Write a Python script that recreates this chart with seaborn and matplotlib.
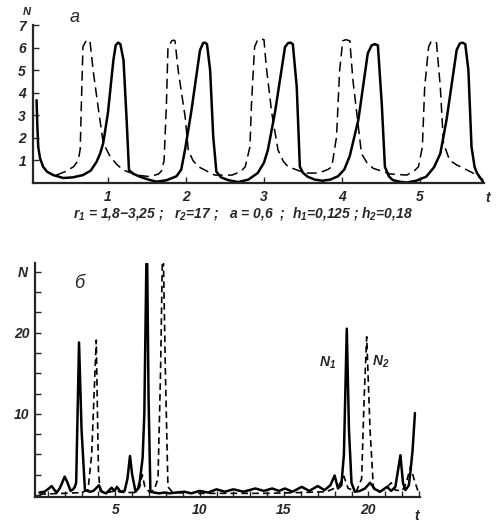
import numpy as np
import pandas as pd
import seaborn as sns
import matplotlib
matplotlib.use("Agg")
import matplotlib.pyplot as plt
from matplotlib.ticker import MultipleLocator

# ---------------- data: panel a ----------------
a_solid_t = [0.086, 0.095, 0.107, 0.13, 0.17, 0.22, 0.30, 0.43, 0.55, 0.68, 0.78, 0.855, 0.90, 0.94,
             1.00, 1.07, 1.10, 1.13, 1.16, 1.20, 1.24, 1.27, 1.33, 1.41, 1.52, 1.62, 1.75, 1.88, 1.94,
             1.99, 2.07, 2.18, 2.22, 2.245, 2.27, 2.31, 2.35, 2.39, 2.45, 2.54, 2.67, 2.80, 2.92, 3.00,
             3.05, 3.14, 3.27, 3.31, 3.34, 3.37, 3.42, 3.46, 3.50, 3.56, 3.65, 3.75, 3.85, 3.95, 4.03,
             4.10, 4.21, 4.33, 4.38, 4.42, 4.46, 4.51, 4.55, 4.60, 4.65, 4.75, 4.83, 4.95, 5.08, 5.18,
             5.26, 5.34, 5.47, 5.51, 5.545, 5.58, 5.62, 5.66, 5.70, 5.73, 5.81]
a_solid_N = [3.67, 2.6, 1.6, 1.1, 0.72, 0.5, 0.35, 0.22, 0.25, 0.35, 0.55, 0.94, 1.3, 1.77,
             3.1, 5.44, 6.1, 6.22, 6.15, 5.44, 2.8, 0.57, 0.4, 0.28, 0.15, 0.06, 0.12, 0.3, 0.6,
             1.5, 3.2, 5.88, 6.2, 6.22, 6.15, 5.0, 2.05, 0.5, 0.25, 0.13, 0.04, 0.15, 0.44, 0.9,
             1.46, 3.1, 6.03, 6.2, 6.22, 6.15, 4.26, 0.72, 0.45, 0.28, 0.15, 0.1, 0.15, 0.3, 0.6,
             1.2, 2.8, 5.74, 6.1, 6.15, 6.1, 3.5, 0.72, 0.3, 0.13, 0.05, 0.02, 0.1, 0.28, 0.7,
             1.3, 2.8, 5.9, 6.18, 6.22, 6.15, 5.0, 1.6, 0.7, 0.44, 0.04]

a_dash_t = [0.34, 0.45, 0.56, 0.62, 0.645, 0.66, 0.68, 0.72, 0.745, 0.77, 0.81, 0.88, 0.94, 1.03,
            1.12, 1.20, 1.37, 1.54, 1.65, 1.69, 1.72, 1.75, 1.77, 1.82, 1.84, 1.86, 1.90, 1.99, 2.03,
            2.09, 2.16, 2.37, 2.59, 2.70, 2.76, 2.82, 2.84, 2.88, 2.92, 2.96, 3.00, 3.03, 3.10, 3.18,
            3.25, 3.31, 3.53, 3.70, 3.82, 3.87, 3.93, 3.97, 4.01, 4.05, 4.10, 4.14, 4.21, 4.25, 4.32,
            4.40, 4.62, 4.83, 4.93, 4.98, 5.03, 5.06, 5.11, 5.14, 5.175, 5.21, 5.26, 5.30, 5.38, 5.47,
            5.56, 5.68, 5.81]
a_dash_N = [0.35, 0.5, 0.72, 1.0, 1.5, 3.5, 6.03, 6.3, 6.33, 6.3, 5.0, 3.23, 1.77, 1.16,
            0.8, 0.57, 0.35, 0.28, 0.4, 0.55, 1.0, 3.5, 6.03, 6.3, 6.33, 6.3, 5.0, 2.93, 1.46,
            1.0, 0.72, 0.35, 0.35, 0.5, 0.72, 1.6, 3.5, 6.03, 6.35, 6.38, 6.35, 5.15, 3.1, 1.46,
            0.95, 0.72, 0.44, 0.44, 0.6, 0.72, 2.05, 5.0, 6.3, 6.35, 6.3, 4.56, 2.49, 1.3, 0.9,
            0.65, 0.4, 0.35, 0.55, 0.72, 1.6, 4.26, 6.03, 6.25, 6.28, 6.25, 4.26, 1.77, 1.0, 0.8,
            0.65, 0.44, 0.13]

# ---------------- data: panel б ----------------
b_n1_t = [0.5, 0.8, 1.0, 1.23, 1.4, 1.52, 1.7, 1.85, 2.0, 2.15, 2.35, 2.5, 2.6, 2.68, 2.85, 3.0,
          3.2, 3.35, 3.5, 3.7, 3.85, 4.03, 4.2, 4.45, 4.6, 4.78, 4.95, 5.1, 5.3, 5.55, 5.72, 5.87,
          6.0, 6.2, 6.35, 6.46, 6.62, 6.72, 6.87, 6.97, 7.08, 7.3, 7.6, 7.9, 8.2, 8.6, 9.1, 9.5,
          10.0, 10.5, 11.0, 11.5, 12.0, 12.6, 13.3, 13.8, 14.3, 14.7, 15.05, 15.5, 16.05, 16.5,
          17.0, 17.4, 17.75, 18.0, 18.2, 18.4, 18.55, 18.72, 18.85, 19.0, 19.2, 19.5, 19.8, 20.1,
          20.4, 20.7, 21.1, 21.35, 21.6, 21.9, 22.05, 22.2, 22.4, 22.5, 22.62, 22.76]
b_n1_N = [0.3, 0.4, 0.7, 1.1, 0.6, 0.3, 0.8, 1.5, 2.26, 1.6, 0.5, 0.7, 1.0, 1.5, 18.8, 8.0,
          0.6, 0.5, 0.4, 0.5, 0.8, 1.2, 0.4, 0.2, 0.5, 0.9, 0.5, 1.0, 0.4, 0.5, 2.0, 4.8,
          2.5, 0.4, 0.8, 1.8, 4.6, 10.0, 33.0, 12.0, 0.4, 0.3, 0.2, 0.3, 0.2, 0.3, 0.4, 0.2,
          0.5, 0.3, 0.7, 0.4, 0.7, 0.4, 0.8, 0.5, 0.8, 0.5, 0.8, 0.4, 1.0, 0.5,
          1.1, 0.6, 1.2, 2.4, 0.8, 1.2, 5.0, 20.5, 8.0, 1.5, 0.4, 0.5, 0.8, 1.5,
          0.7, 0.4, 1.0, 0.5, 1.0, 4.9, 1.5, 0.6, 1.2, 3.0, 5.5, 10.1]

b_n2_t = [0.5, 2.0, 3.0, 3.38, 3.6, 3.87, 4.0, 4.1, 4.5, 5.0, 5.5, 6.2, 6.45, 6.6, 6.75, 7.0,
          7.3, 7.53, 7.68, 7.82, 7.97, 8.12, 8.4, 10.0, 12.0, 14.0, 16.0, 17.5, 18.2, 18.55, 18.8,
          19.3, 19.6, 19.75, 19.9, 20.1, 20.3, 20.6, 21.0, 21.35, 21.6, 22.0, 22.25, 22.5, 22.7, 23.0]
b_n2_N = [0.1, 0.2, 0.3, 0.6, 5.0, 19.1, 3.0, 0.5, 0.3, 0.5, 0.3, 0.3, 1.0, 2.5, 1.0, 0.4,
          0.6, 2.0, 15.0, 33.0, 15.0, 1.0, 0.3, 0.2, 0.2, 0.2, 0.3, 0.4, 1.0, 2.3, 0.8,
          0.5, 2.0, 12.0, 19.5, 8.0, 0.8, 0.4, 0.7, 1.5, 0.6, 0.5, 1.5, 3.5, 2.0, 0.1]

a_xticks = [1, 2, 3, 4, 5]
a_yticks = [1, 2, 3, 4, 5, 6, 7]
b_xticks = [5, 10, 15, 20]
b_yticks = [10, 20]
params_text = r"$r_1$ = 1,8$-$3,25 ;   $r_2$=17 ;   a = 0,6  ;  $h_1$=0,125 ; $h_2$=0,18"

# ---------------- style ----------------
sns.set_style("ticks")
plt.rcParams['font.family'] = ['Liberation Sans', 'DejaVu Sans']
plt.rcParams['font.style'] = 'italic'
plt.rcParams['font.weight'] = 'bold'
plt.rcParams['axes.linewidth'] = 1.6
plt.rcParams['mathtext.fontset'] = 'custom'
plt.rcParams['mathtext.rm'] = 'Liberation Sans:italic:bold'
plt.rcParams['mathtext.it'] = 'Liberation Sans:italic:bold'
plt.rcParams['mathtext.bf'] = 'Liberation Sans:italic:bold'
plt.rcParams['mathtext.default'] = 'it'

fig = plt.figure(figsize=(5.0, 5.3), dpi=100)
W, H = 500, 530

def axrect(l, r, t, b):
    return [l / W, 1 - b / H, (r - l) / W, (b - t) / H]

# ---- panel a ----
ax1 = fig.add_axes(axrect(33, 484, 25, 183))
sns.lineplot(x=a_solid_t, y=a_solid_N, ax=ax1, color='black', lw=1.8, sort=False, estimator=None)
sns.lineplot(x=a_dash_t, y=a_dash_N, ax=ax1, color='black', lw=1.1, sort=False, estimator=None,
             linestyle=(0, (6.5, 3.5)))
ax1.set_xlim(0.04, 5.82)
ax1.set_ylim(0, 7)
ax1.set_xticks(a_xticks)
ax1.set_yticks(a_yticks)
ax1.tick_params(direction='in', length=4, width=1.0, labelsize=10, pad=5)
sns.despine(ax=ax1)
ax1.set_xlabel('')
ax1.set_ylabel('')
fig.text(27 / W, 1 - 12 / H, 'N', fontsize=8, ha='center', va='center')
fig.text(75 / W, 1 - 18 / H, 'а', fontsize=13, ha='center', va='center', fontweight='normal')
fig.text(488 / W, 1 - 198 / H, 't', fontsize=10, ha='center', va='center')
fig.text(243 / W, 1 - 213 / H, params_text, fontsize=10, ha='center', va='center')

# ---- panel б ----
ax2 = fig.add_axes(axrect(35, 420, 263, 497))
sns.lineplot(x=b_n1_t, y=b_n1_N, ax=ax2, color='black', lw=1.8, sort=False, estimator=None)
sns.lineplot(x=b_n2_t, y=b_n2_N, ax=ax2, color='black', lw=1.2, sort=False, estimator=None,
             linestyle=(0, (4, 2.5)))
ax2.set_xlim(0.24, 23.06)
ax2.set_ylim(-0.25, 28.6)
ax2.set_xticks(b_xticks)
ax2.set_yticks(b_yticks)
ax2.xaxis.set_minor_locator(MultipleLocator(1))
ax2.yaxis.set_minor_locator(MultipleLocator(2.5))
ax2.tick_params(which='both', direction='in', length=4, width=1.0, labelsize=10, pad=4)
sns.despine(ax=ax2)
ax2.set_xlabel('')
ax2.set_ylabel('')
fig.text(23 / W, 1 - 273 / H, 'N', fontsize=10, ha='center', va='center')
fig.text(79 / W, 1 - 283 / H, 'б', fontsize=13, ha='center', va='center', fontweight='normal')
fig.text(417 / W, 1 - 516 / H, 't', fontsize=10, ha='center', va='center')
fig.text(327 / W, 1 - 363 / H, r'$N_1$', fontsize=10, ha='center', va='center')
fig.text(381 / W, 1 - 362 / H, r'$N_2$', fontsize=10, ha='center', va='center')

fig.savefig('out.png', dpi=100, facecolor='white')
